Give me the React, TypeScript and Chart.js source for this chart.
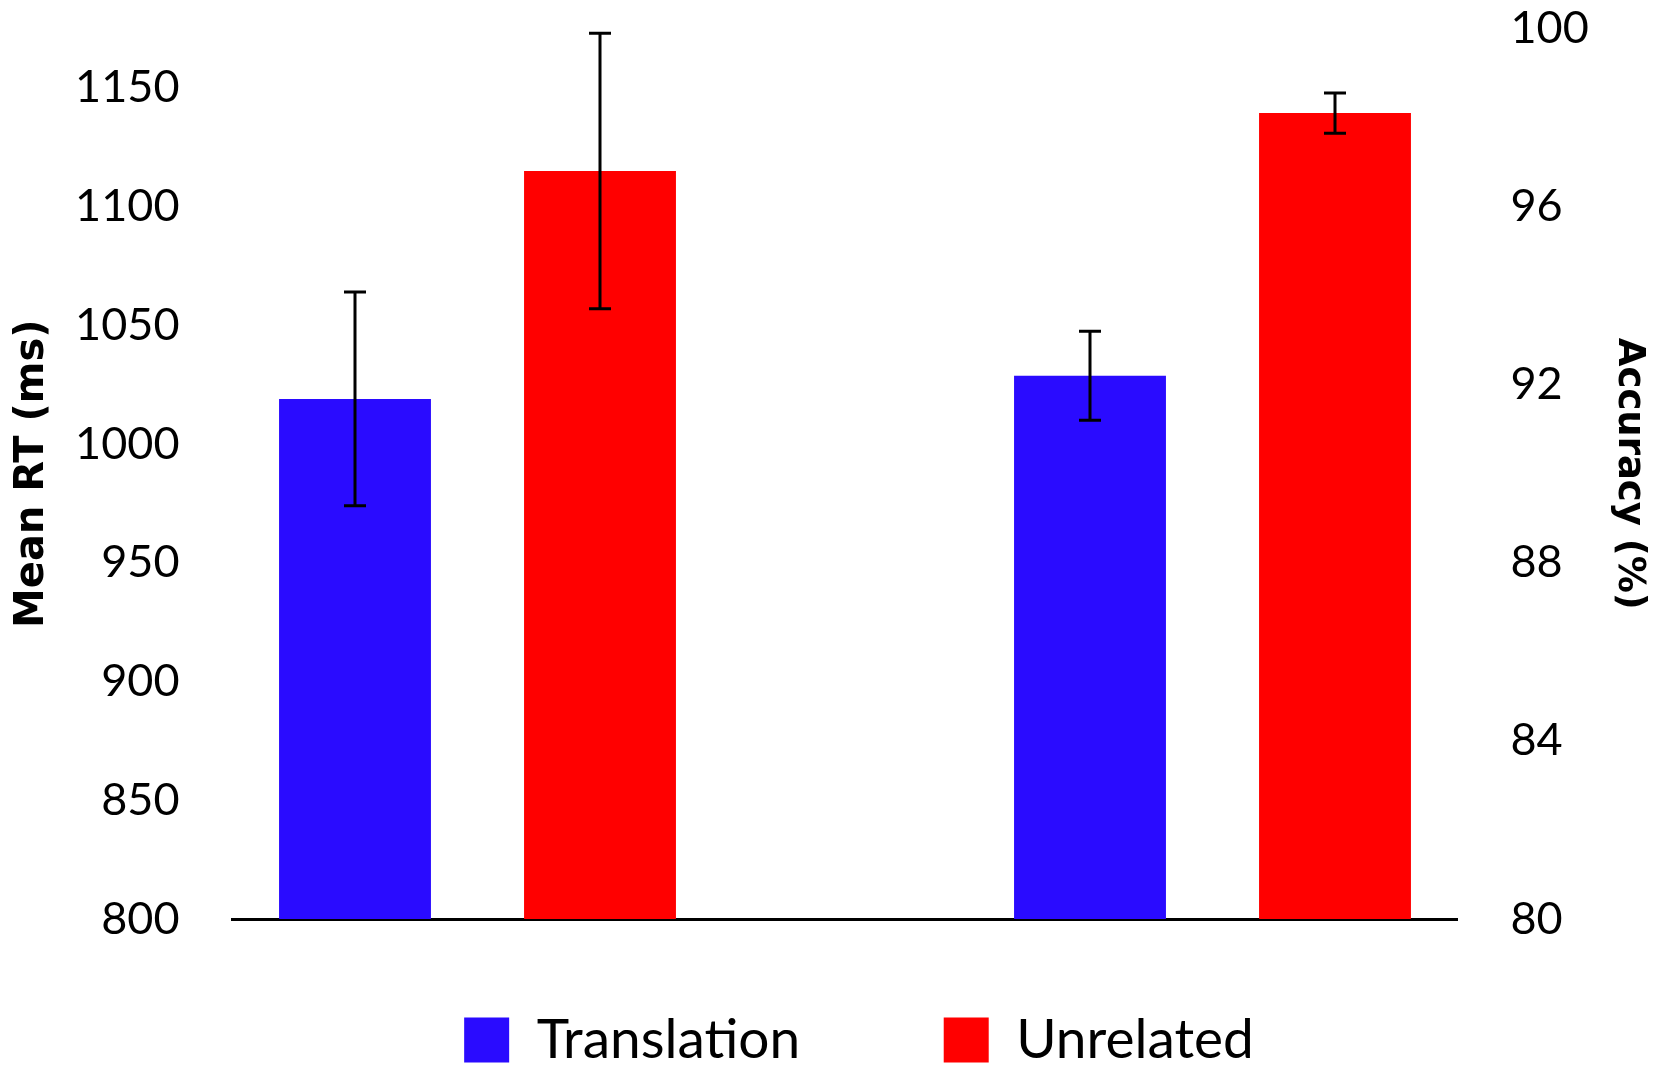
import React, { useEffect, useRef } from 'react';
import { Chart, registerables } from 'chart.js';

Chart.register(...registerables);

// five slots along the x axis, the middle one is left empty as a spacer
const slotLabels = ['RT Translation', 'RT Unrelated', '', 'Accuracy Translation', 'Accuracy Unrelated'];
const rtSlots = [0, 1];
const accuracySlots = [3, 4];

const conditions = ['Translation', 'Unrelated'];
const conditionColors = ['#2A0BFF', '#FF0000'];

const rtMeans = [1019, 1115];
const rtErrors = [45, 58];
const accuracyMeans = [92.2, 98.1];
const accuracyErrors = [1.0, 0.45];

const rtRange = [800, 1175];
const rtTicks = [800, 850, 900, 950, 1000, 1050, 1100, 1150];
const accuracyRange = [80, 100];
const accuracyTicks = [80, 84, 88, 92, 96, 100];

const place = (value: number, slot: number) =>
  slotLabels.map((_, i) => (i === slot ? value : null));

const errorBars = {
  id: 'errorBars',
  afterDatasetsDraw(chart: any) {
    const { ctx } = chart;
    ctx.save();
    ctx.strokeStyle = '#000';
    ctx.lineWidth = 3;
    chart.data.datasets.forEach((ds: any, i: number) => {
      const meta = chart.getDatasetMeta(i);
      const scale = chart.scales[ds.yAxisID];
      meta.data.forEach((bar: any, j: number) => {
        const v = ds.data[j];
        const e = ds.errors[j];
        if (v == null || e == null) return;
        const top = scale.getPixelForValue(v + e);
        const bottom = scale.getPixelForValue(v - e);
        const cap = 11;
        ctx.beginPath();
        ctx.moveTo(bar.x, top);
        ctx.lineTo(bar.x, bottom);
        ctx.moveTo(bar.x - cap, top);
        ctx.lineTo(bar.x + cap, top);
        ctx.moveTo(bar.x - cap, bottom);
        ctx.lineTo(bar.x + cap, bottom);
        ctx.stroke();
      });
    });
    ctx.restore();
  },
};

export default function App() {
  const chartRef = useRef<HTMLCanvasElement | null>(null);

  useEffect(() => {
    if (!chartRef.current) return;

    const barStyle = {
      grouped: false,
      categoryPercentage: 1,
      barPercentage: 0.62,
      borderWidth: 0,
    };

    const datasets = [
      ...conditions.map((label, k) => ({
        ...barStyle,
        label,
        data: place(rtMeans[k], rtSlots[k]),
        errors: place(rtErrors[k], rtSlots[k]),
        yAxisID: 'y',
        backgroundColor: conditionColors[k],
      })),
      ...conditions.map((label, k) => ({
        ...barStyle,
        label,
        data: place(accuracyMeans[k], accuracySlots[k]),
        errors: place(accuracyErrors[k], accuracySlots[k]),
        yAxisID: 'y1',
        backgroundColor: conditionColors[k],
      })),
    ];

    const tickFont = { family: 'Lato', size: 45 };
    // tick marks are hidden; their length only keeps the labels away from the plot
    const hiddenGrid = { display: false, drawTicks: true, tickLength: 53 };

    const chart = new Chart(chartRef.current, {
      type: 'bar',
      data: { labels: slotLabels, datasets: datasets as any },
      options: {
        animation: false,
        responsive: true,
        maintainAspectRatio: false,
        layout: { padding: { top: 28.5, left: 0, right: -64, bottom: -6.5 } },
        plugins: {
          tooltip: { enabled: false },
          legend: {
            position: 'bottom',
            // empty title with negative padding lets the item gap be wider than the top gap
            title: { display: true, text: '', font: { size: 10 }, padding: { top: -62, bottom: 0 } },
            labels: {
              filter: (item) => (item.datasetIndex ?? 0) < conditions.length,
              boxWidth: 45,
              boxHeight: 45,
              padding: 143.5,
              color: '#000',
              font: { family: 'Lato', size: 55 },
            },
          },
        },
        scales: {
          x: {
            type: 'category',
            grid: { display: false, drawTicks: false },
            ticks: { display: false },
            border: { display: true, color: '#000', width: 3 },
            afterFit: (scale) => {
              scale.height = 0;
            },
          },
          y: {
            type: 'linear',
            position: 'left',
            min: rtRange[0],
            max: rtRange[1],
            afterBuildTicks: (scale) => {
              scale.ticks = rtTicks.map((value) => ({ value }));
            },
            afterFit: (scale) => {
              scale.width = 232.5;
            },
            grid: hiddenGrid,
            border: { display: false },
            ticks: {
              padding: 0,
              color: '#000',
              font: tickFont,
              callback: (v) => String(v),
            },
            title: {
              display: true,
              text: 'Mean RT (ms)',
              color: '#000',
              font: { family: 'DejaVu Sans', size: 40, weight: 'bold' },
              padding: { top: 8.5, bottom: 0 },
            },
          },
          y1: {
            type: 'linear',
            position: 'right',
            min: accuracyRange[0],
            max: accuracyRange[1],
            afterBuildTicks: (scale) => {
              scale.ticks = accuracyTicks.map((value) => ({ value }));
            },
            afterFit: (scale) => {
              scale.width = 260.5;
            },
            grid: hiddenGrid,
            border: { display: false },
            ticks: {
              padding: 0,
              color: '#000',
              font: tickFont,
              callback: (v) => String(v),
            },
            title: {
              display: true,
              text: 'Accuracy (%)',
              color: '#000',
              font: { family: 'DejaVu Sans', size: 37, weight: 'bold' },
              padding: { top: 66.8, bottom: 0 },
            },
          },
        },
      },
      plugins: [errorBars],
    });

    return () => {
      chart.destroy();
    };
  }, []);

  return (
    <div style={{ position: 'fixed', left: 0, top: 0, width: 1654, height: 1071, background: '#fff' }}>
      <canvas ref={chartRef} />
    </div>
  );
}
